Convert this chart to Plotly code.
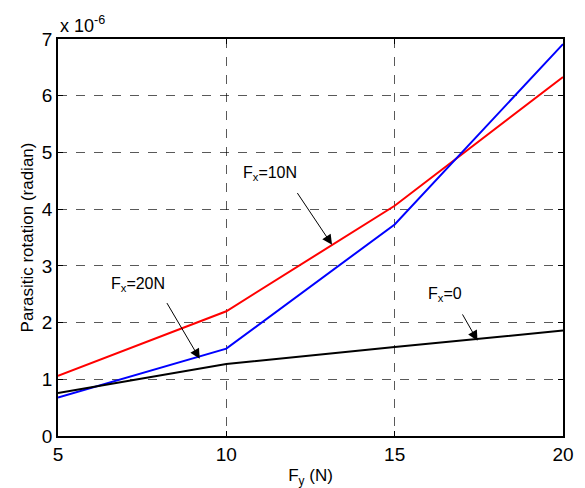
import plotly.graph_objects as go

fy = [5, 10, 15, 20]
rot_fx0 = [0.76, 1.27, 1.57, 1.86]
rot_fx10 = [1.06, 2.20, 4.06, 6.33]
rot_fx20 = [0.68, 1.54, 3.73, 6.91]

x_ticks = [5, 10, 15, 20]
y_ticks = [0, 1, 2, 3, 4, 5, 6, 7]

FONT = "Liberation Sans, Arial, sans-serif"

fig = go.Figure()
fig.add_trace(go.Scatter(x=fy, y=rot_fx10, mode="lines", line=dict(color="#ff0000", width=2), showlegend=False))
fig.add_trace(go.Scatter(x=fy, y=rot_fx20, mode="lines", line=dict(color="#0000ff", width=2), showlegend=False))
fig.add_trace(go.Scatter(x=fy, y=rot_fx0, mode="lines", line=dict(color="#000000", width=2), showlegend=False))

labels = [
    ("F<sub>x</sub>=10N", 11.30, 4.62, 13.14, 3.37, 12.08, 4.31),
    ("F<sub>x</sub>=20N", 7.38, 2.68, 9.21, 1.36, 8.21, 2.37),
    ("F<sub>x</sub>=0", 16.50, 2.50, 17.46, 1.68, 16.99, 2.17),
]
for txt, tx, ty, hx, hy, ax_, ay_ in labels:
    fig.add_annotation(x=tx, y=ty, text=txt, showarrow=False, font=dict(family=FONT, size=16, color="black"))
    fig.add_annotation(x=hx, y=hy, ax=ax_, ay=ay_, axref="x", ayref="y", text="",
                       showarrow=True, arrowhead=2, arrowsize=2, arrowwidth=1, arrowcolor="black")

fig.add_annotation(x=0, y=1, xref="paper", yref="paper", xanchor="left", yanchor="bottom",
                   text="x 10<sup>-6</sup>", showarrow=False, yshift=1,
                   font=dict(family=FONT, size=18, color="black"))

axis_common = dict(
    showline=True, linecolor="black", linewidth=1.5, mirror="ticks",
    ticks="inside", ticklen=5, tickcolor="black",
    showgrid=True, gridcolor="rgba(0,0,0,0.65)", griddash="dash", gridwidth=1,
    zeroline=False, tickfont=dict(family=FONT, size=19, color="black"),
    automargin=False,
)

fig.update_xaxes(range=[5, 20], tickvals=x_ticks, ticktext=[str(v) for v in x_ticks],
                 title=dict(text="F<sub>y</sub> (N)", font=dict(family=FONT, size=17, color="black"), standoff=6),
                 **axis_common)
fig.update_yaxes(range=[0, 7], tickvals=y_ticks, ticktext=[str(v) for v in y_ticks],
                 title=dict(text="Parasitic rotation (radian)", font=dict(family=FONT, size=17, color="black"), standoff=4),
                 **axis_common)

fig.update_layout(
    width=585, height=488,
    margin=dict(l=58, r=22, t=39, b=52, autoexpand=False),
    plot_bgcolor="white", paper_bgcolor="white",
    font=dict(family=FONT, color="black"),
)

fig.write_html("out.html", config={"displayModeBar": False},
               post_script="document.body.style.margin='0';document.body.style.overflow='hidden';")
